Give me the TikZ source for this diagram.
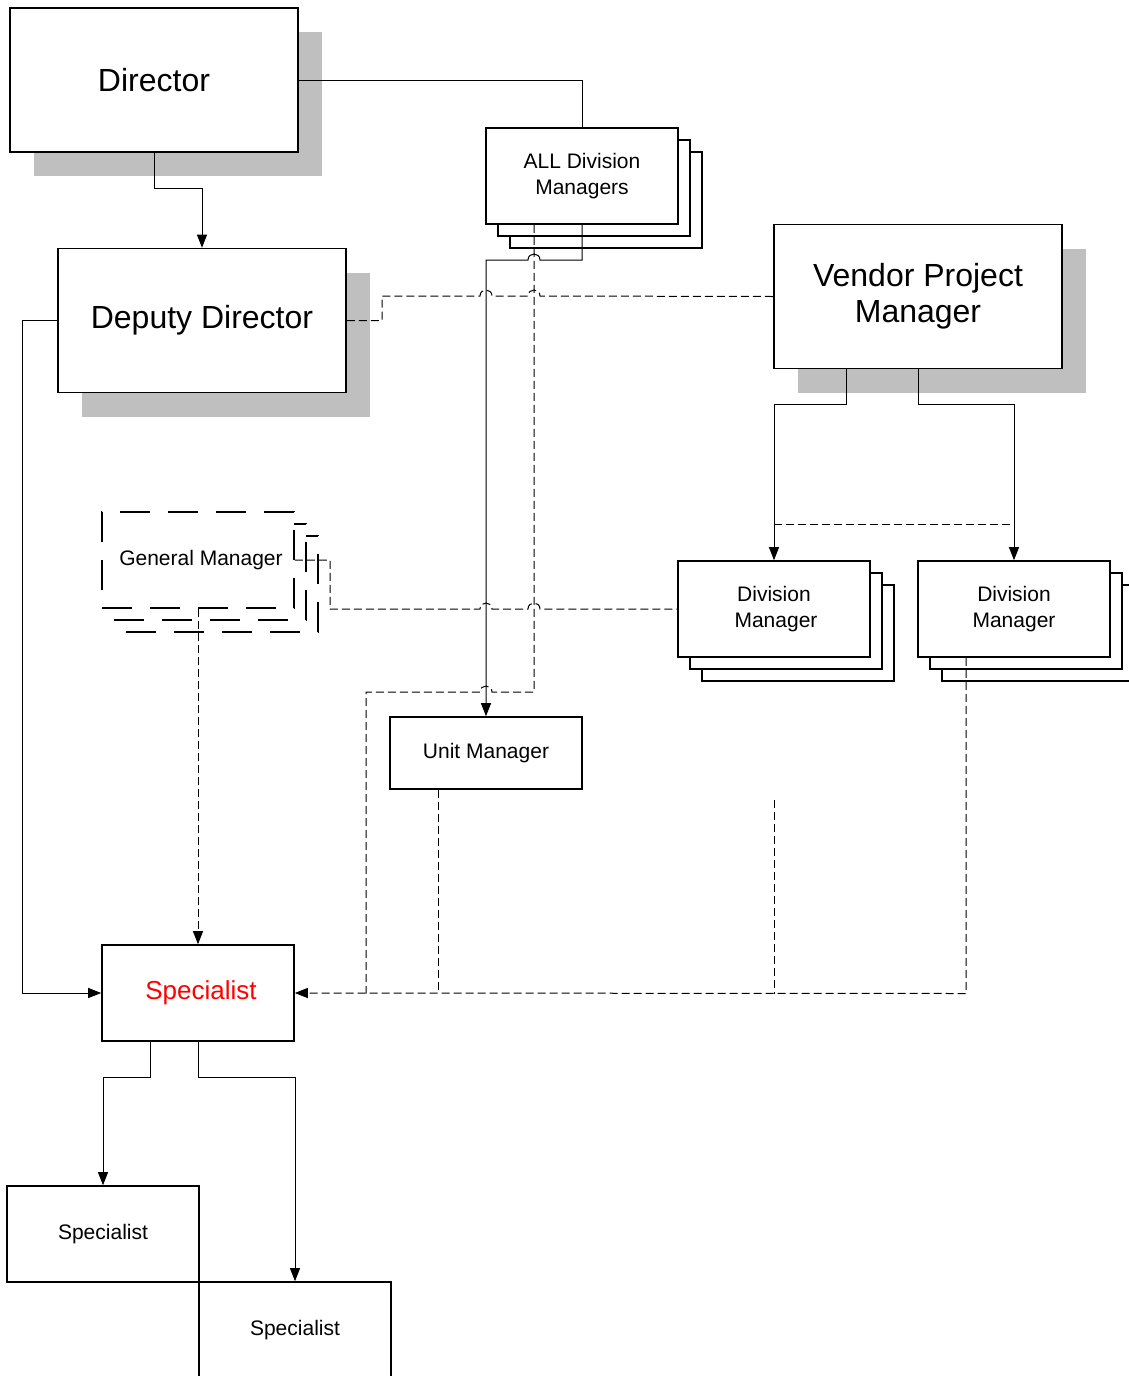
\documentclass[tikz,border=0pt]{standalone}
\usepackage{fontspec}
\setmainfont{Liberation Sans}
\usetikzlibrary{arrows.meta,calc}
\tikzset{
  box/.style={draw, line width=1.6pt, fill=white, inner sep=0pt, align=center},
  bigbox/.style={box, minimum width=288pt, minimum height=144pt, font=\fontsize{32}{36}\selectfont},
  smallbox/.style={box, minimum width=192pt, minimum height=96pt, font=\fontsize{21}{26}\selectfont},
  shadowbox/.style={fill=black!25, draw=none, inner sep=0pt, minimum width=288pt, minimum height=144pt},
  gmbox/.style={smallbox, dash pattern=on 30pt off 18pt},
  conn/.style={line width=1pt},
  dconn/.style={line width=1pt, dash pattern=on 8pt off 4pt},
  arr/.style={-{Triangle[length=13pt,width=10pt]}}
}
\begin{document}
\begin{tikzpicture}[x=1pt,y=-1pt]
\useasboundingbox (0,0) rectangle (1128,1376);
% shadows
\node[shadowbox] (dirsh) at (178,104) {};
\node[shadowbox] (depsh) at (226,344.5) {};
\node[shadowbox] (vensh) at (942,320.5) {};
% big boxes
\node[bigbox] (dir) at (154,80) {Director};
\node[bigbox] (dep) at (202,320.5) {Deputy Director};
\node[bigbox] (ven) at (918,296.5) {Vendor Project\\Manager};
% ALL Division Managers stack
\node[smallbox] (alldmC) at (606,200) {};
\node[smallbox] (alldmB) at (594,188) {};
\node[smallbox] (alldm) at (582,176) {ALL Division\\Managers};
% General Manager stack
\node[gmbox] (gmC) at (222,584) {};
\node[gmbox] (gmB) at (210,572) {};
\node[gmbox] (gm) at (198,560) {\hspace*{6pt}General Manager};
% Division Managers
\node[smallbox] (dmaC) at (798,633) {};
\node[smallbox] (dmaB) at (786,621) {};
\node[smallbox] (dma) at (774,609) {Division\\\hspace*{4pt}Manager};
\node[smallbox] (dmbC) at (1038,633) {};
\node[smallbox] (dmbB) at (1026,621) {};
\node[smallbox] (dmb) at (1014,609) {Division\\Manager};
% others
\node[smallbox, minimum height=72pt] (unit) at (486,753) {Unit Manager};
\node[smallbox, font=\fontsize{26}{30}\selectfont, text=red] (spec) at (198,993) {\hspace*{6pt}Specialist};
\node[smallbox] (spa) at (103,1234) {Specialist};
\node[smallbox] (spb) at (295,1330) {Specialist};

% solid connectors
\draw[conn] (dir.east) -| (alldm.north);
\draw[conn,arr] (dir.south) -- ++(0,36) -| (dep.north);
\draw[conn,arr] (alldm.south) -- (582,260) -- (540,260)
   .. controls (540,252) and (528,252) .. (528,260) -- (486,260) -- (unit.north);
\draw[conn,arr] (dep.west) -- (22,320.5) |- (spec.west);
\draw[conn,arr] ([xshift=-72pt]ven.south) -- ++(0,35) -| (dma.north);
\draw[conn,arr] (ven.south) -- ++(0,35) -| (dmb.north);
\draw[conn,arr] ([xshift=-48pt]spec.south) -- ++(0,36) -| (spa.north);
\draw[conn,arr] (spec.south) -- ++(0,36) -| (spb.north);

% dashed connectors
\coordinate (d1) at (534,692);
\draw[dconn] ([xshift=-48pt]alldm.south) -- (d1) -- (492,692)
   .. controls (492,684) and (480,684) .. (480,692) -- (366,692) -- (366,993.5);
\draw[dconn] (dep.east) -- (382,320.5) -- (382,296) -- (480,296)
   .. controls (480,288) and (492,288) .. (492,296) -- (528,296)
   .. controls (528,288) and (540,288) .. (540,296) -- (ven.west);
\draw[dconn] (gm.east) -- (330,560) -- (330,609) -- (480,609)
   .. controls (480,601) and (492,601) .. (492,609) -- (528,609)
   .. controls (528,601) and (540,601) .. (540,609) -- (dma.west);
\draw[dconn,arr] (gm.south) -- (spec.north);
\draw[dconn] (774,524) -- (1014,524);
\coordinate (s1) at (774,800);
\draw[dconn] (s1) -- (774,993.5);
\draw[dconn] ([xshift=-48pt]unit.south) -- (438,993.5);
\draw[dconn,arr] ([xshift=-48pt]dmb.south) -- (966,993.5) -- (spec.east);
\end{tikzpicture}
\end{document}
